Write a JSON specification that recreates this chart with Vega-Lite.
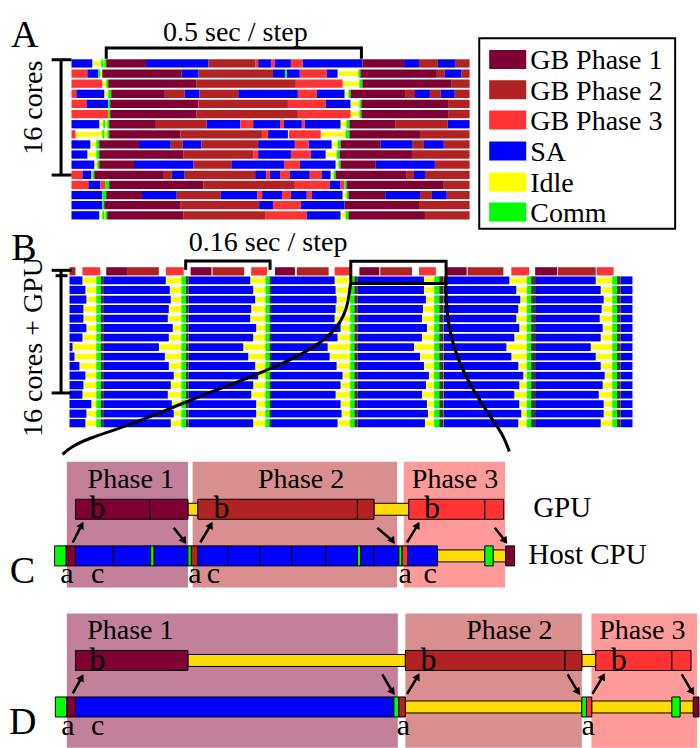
{
"$schema":"https://vega.github.io/schema/vega-lite/v6.json",
"width":700,"height":748,
"autosize":{"type":"fit","contains":"padding"},
"padding":0,
"background":"white",
"config":{"view":{"stroke":null}},
"datasets":{
"BG":[
{"a":67.3,"b":189.3,"y0":467.3,"y1":596,"s":"BG1"},
{"a":194,"b":400,"y0":467.3,"y1":596,"s":"BG2"},
{"a":406.7,"b":508.7,"y0":467.3,"y1":596,"s":"BG3"},
{"a":67.3,"b":400.7,"y0":622.7,"y1":760,"s":"BG1"},
{"a":408.3,"b":586,"y0":622.7,"y1":760,"s":"BG2"},
{"a":595.7,"b":702,"y0":622.7,"y1":760,"s":"BG3"}],
"A":[
{"y":59.8,"a":72,"b":93,"s":"SA"},{"y":59.8,"a":93,"b":102,"s":"Idle"},{"y":59.8,"a":102,"b":104,"s":"Comm"},{"y":59.8,"a":104,"b":105,"s":"Idle"},{"y":59.8,"a":105,"b":107,"s":"Comm"},{"y":59.8,"a":107,"b":147,"s":"P1"},{"y":59.8,"a":147,"b":210,"s":"SA"},{"y":59.8,"a":210,"b":257,"s":"P2"},{"y":59.8,"a":257,"b":260,"s":"P3"},{"y":59.8,"a":260,"b":273,"s":"SA"},{"y":59.8,"a":273,"b":277,"s":"P3"},{"y":59.8,"a":277,"b":293,"s":"SA"},{"y":59.8,"a":293,"b":305,"s":"P3"},{"y":59.8,"a":305,"b":365,"s":"SA"},{"y":59.8,"a":365,"b":407,"s":"P1"},{"y":59.8,"a":407,"b":422,"s":"SA"},{"y":59.8,"a":422,"b":441,"s":"P2"},{"y":59.8,"a":441,"b":459,"s":"SA"},{"y":59.8,"a":459,"b":473,"s":"P2"},
{"y":70.2,"a":72,"b":88,"s":"P3"},{"y":70.2,"a":88,"b":99,"s":"SA"},{"y":70.2,"a":99,"b":101,"s":"Comm"},{"y":70.2,"a":101,"b":103,"s":"Idle"},{"y":70.2,"a":103,"b":183,"s":"P1"},{"y":70.2,"a":183,"b":200,"s":"SA"},{"y":70.2,"a":200,"b":275,"s":"P2"},{"y":70.2,"a":275,"b":287,"s":"SA"},{"y":70.2,"a":287,"b":289,"s":"Comm"},{"y":70.2,"a":289,"b":302,"s":"SA"},{"y":70.2,"a":302,"b":329,"s":"P3"},{"y":70.2,"a":329,"b":340,"s":"SA"},{"y":70.2,"a":340,"b":361,"s":"Idle"},{"y":70.2,"a":361,"b":363,"s":"Comm"},{"y":70.2,"a":363,"b":440,"s":"P1"},{"y":70.2,"a":440,"b":448,"s":"P2"},{"y":70.2,"a":448,"b":465,"s":"SA"},{"y":70.2,"a":465,"b":473,"s":"P2"},
{"y":80.5,"a":72,"b":103,"s":"P3"},{"y":80.5,"a":103,"b":107,"s":"Idle"},{"y":80.5,"a":107,"b":109,"s":"Comm"},{"y":80.5,"a":109,"b":198,"s":"P1"},{"y":80.5,"a":198,"b":298,"s":"P2"},{"y":80.5,"a":298,"b":345,"s":"P3"},{"y":80.5,"a":345,"b":362,"s":"Idle"},{"y":80.5,"a":362,"b":365,"s":"Comm"},{"y":80.5,"a":365,"b":455,"s":"P1"},{"y":80.5,"a":455,"b":473,"s":"P2"},
{"y":90.9,"a":72,"b":77,"s":"P3"},{"y":90.9,"a":77,"b":105,"s":"SA"},{"y":90.9,"a":105,"b":109,"s":"Idle"},{"y":90.9,"a":109,"b":112,"s":"Comm"},{"y":90.9,"a":112,"b":166,"s":"P1"},{"y":90.9,"a":166,"b":186,"s":"P2"},{"y":90.9,"a":186,"b":201,"s":"SA"},{"y":90.9,"a":201,"b":240,"s":"P2"},{"y":90.9,"a":240,"b":300,"s":"SA"},{"y":90.9,"a":300,"b":319,"s":"P3"},{"y":90.9,"a":319,"b":347,"s":"SA"},{"y":90.9,"a":347,"b":351,"s":"Idle"},{"y":90.9,"a":351,"b":353,"s":"Comm"},{"y":90.9,"a":353,"b":408,"s":"P1"},{"y":90.9,"a":408,"b":418,"s":"P2"},{"y":90.9,"a":418,"b":433,"s":"SA"},{"y":90.9,"a":433,"b":444,"s":"P2"},{"y":90.9,"a":444,"b":458,"s":"SA"},{"y":90.9,"a":458,"b":473,"s":"P2"},
{"y":101.2,"a":72,"b":87,"s":"P3"},{"y":101.2,"a":87,"b":109,"s":"SA"},{"y":101.2,"a":109,"b":111,"s":"Comm"},{"y":101.2,"a":111,"b":200,"s":"P1"},{"y":101.2,"a":200,"b":290,"s":"P2"},{"y":101.2,"a":290,"b":328,"s":"P3"},{"y":101.2,"a":328,"b":353,"s":"SA"},{"y":101.2,"a":353,"b":362,"s":"Idle"},{"y":101.2,"a":362,"b":364,"s":"Comm"},{"y":101.2,"a":364,"b":452,"s":"P1"},{"y":101.2,"a":452,"b":473,"s":"P2"},
{"y":111.6,"a":72,"b":109,"s":"P3"},{"y":111.6,"a":109,"b":111,"s":"Comm"},{"y":111.6,"a":111,"b":198,"s":"P1"},{"y":111.6,"a":198,"b":300,"s":"P2"},{"y":111.6,"a":300,"b":353,"s":"P3"},{"y":111.6,"a":353,"b":362,"s":"Idle"},{"y":111.6,"a":362,"b":364,"s":"Comm"},{"y":111.6,"a":364,"b":452,"s":"P1"},{"y":111.6,"a":452,"b":473,"s":"P2"},
{"y":122.0,"a":72,"b":100,"s":"SA"},{"y":122.0,"a":100,"b":104,"s":"Idle"},{"y":122.0,"a":104,"b":106,"s":"Comm"},{"y":122.0,"a":106,"b":108,"s":"Idle"},{"y":122.0,"a":108,"b":110,"s":"Comm"},{"y":122.0,"a":110,"b":157,"s":"P1"},{"y":122.0,"a":157,"b":208,"s":"P2"},{"y":122.0,"a":208,"b":242,"s":"SA"},{"y":122.0,"a":242,"b":255,"s":"P3"},{"y":122.0,"a":255,"b":282,"s":"SA"},{"y":122.0,"a":282,"b":286,"s":"P3"},{"y":122.0,"a":286,"b":304,"s":"SA"},{"y":122.0,"a":304,"b":307,"s":"P3"},{"y":122.0,"a":307,"b":343,"s":"SA"},{"y":122.0,"a":343,"b":349,"s":"Idle"},{"y":122.0,"a":349,"b":352,"s":"Comm"},{"y":122.0,"a":352,"b":398,"s":"P1"},{"y":122.0,"a":398,"b":451,"s":"P2"},{"y":122.0,"a":451,"b":473,"s":"SA"},
{"y":132.3,"a":72,"b":76,"s":"P3"},{"y":132.3,"a":76,"b":103,"s":"Idle"},{"y":132.3,"a":103,"b":105,"s":"Comm"},{"y":132.3,"a":105,"b":108,"s":"Idle"},{"y":132.3,"a":108,"b":110,"s":"Comm"},{"y":132.3,"a":110,"b":182,"s":"P1"},{"y":132.3,"a":182,"b":264,"s":"P2"},{"y":132.3,"a":264,"b":270,"s":"P3"},{"y":132.3,"a":270,"b":290,"s":"SA"},{"y":132.3,"a":291,"b":323,"s":"P3"},{"y":132.3,"a":323,"b":348,"s":"Idle"},{"y":132.3,"a":348,"b":352,"s":"Comm"},{"y":132.3,"a":352,"b":423,"s":"P1"},{"y":132.3,"a":423,"b":473,"s":"P2"},
{"y":142.7,"a":72,"b":91,"s":"SA"},{"y":142.7,"a":91,"b":97,"s":"Idle"},{"y":142.7,"a":97,"b":100,"s":"Comm"},{"y":142.7,"a":100,"b":140,"s":"P1"},{"y":142.7,"a":140,"b":172,"s":"SA"},{"y":142.7,"a":172,"b":184,"s":"P2"},{"y":142.7,"a":184,"b":203,"s":"SA"},{"y":142.7,"a":203,"b":260,"s":"P2"},{"y":142.7,"a":260,"b":297,"s":"SA"},{"y":142.7,"a":297,"b":311,"s":"P3"},{"y":142.7,"a":311,"b":334,"s":"SA"},{"y":142.7,"a":334,"b":340,"s":"Idle"},{"y":142.7,"a":340,"b":343,"s":"Comm"},{"y":142.7,"a":343,"b":383,"s":"P1"},{"y":142.7,"a":383,"b":415,"s":"SA"},{"y":142.7,"a":415,"b":427,"s":"P2"},{"y":142.7,"a":427,"b":447,"s":"SA"},{"y":142.7,"a":447,"b":473,"s":"P2"},
{"y":153.0,"a":72,"b":88,"s":"SA"},{"y":153.0,"a":88,"b":97,"s":"Idle"},{"y":153.0,"a":97,"b":100,"s":"Comm"},{"y":153.0,"a":100,"b":185,"s":"P1"},{"y":153.0,"a":185,"b":255,"s":"P2"},{"y":153.0,"a":255,"b":260,"s":"P3"},{"y":153.0,"a":260,"b":293,"s":"SA"},{"y":153.0,"a":293,"b":313,"s":"P3"},{"y":153.0,"a":313,"b":328,"s":"SA"},{"y":153.0,"a":328,"b":339,"s":"Idle"},{"y":153.0,"a":339,"b":342,"s":"Comm"},{"y":153.0,"a":342,"b":415,"s":"P1"},{"y":153.0,"a":415,"b":473,"s":"P2"},
{"y":163.4,"a":72,"b":95,"s":"SA"},{"y":163.4,"a":95,"b":98,"s":"Idle"},{"y":163.4,"a":98,"b":100,"s":"Comm"},{"y":163.4,"a":100,"b":135,"s":"P1"},{"y":163.4,"a":135,"b":195,"s":"SA"},{"y":163.4,"a":195,"b":233,"s":"P2"},{"y":163.4,"a":233,"b":286,"s":"SA"},{"y":163.4,"a":286,"b":302,"s":"P3"},{"y":163.4,"a":302,"b":338,"s":"SA"},{"y":163.4,"a":338,"b":341,"s":"Idle"},{"y":163.4,"a":341,"b":343,"s":"Comm"},{"y":163.4,"a":343,"b":378,"s":"P1"},{"y":163.4,"a":378,"b":438,"s":"SA"},{"y":163.4,"a":438,"b":473,"s":"P2"},
{"y":173.8,"a":72,"b":83,"s":"P3"},{"y":173.8,"a":83,"b":92,"s":"SA"},{"y":173.8,"a":92,"b":93,"s":"Idle"},{"y":173.8,"a":93,"b":95,"s":"Comm"},{"y":173.8,"a":95,"b":165,"s":"P1"},{"y":173.8,"a":165,"b":173,"s":"P2"},{"y":173.8,"a":173,"b":186,"s":"SA"},{"y":173.8,"a":186,"b":257,"s":"P2"},{"y":173.8,"a":257,"b":268,"s":"SA"},{"y":173.8,"a":268,"b":272,"s":"P3"},{"y":173.8,"a":272,"b":282,"s":"SA"},{"y":173.8,"a":282,"b":292,"s":"P3"},{"y":173.8,"a":292,"b":312,"s":"SA"},{"y":173.8,"a":312,"b":324,"s":"P3"},{"y":173.8,"a":324,"b":333,"s":"SA"},{"y":173.8,"a":333,"b":336,"s":"Idle"},{"y":173.8,"a":336,"b":338,"s":"Comm"},{"y":173.8,"a":338,"b":409,"s":"P1"},{"y":173.8,"a":409,"b":417,"s":"P2"},{"y":173.8,"a":417,"b":428,"s":"SA"},{"y":173.8,"a":428,"b":473,"s":"P2"},
{"y":184.1,"a":72,"b":89,"s":"P3"},{"y":184.1,"a":89,"b":101,"s":"SA"},{"y":184.1,"a":101,"b":106,"s":"P3"},{"y":184.1,"a":106,"b":110,"s":"Comm"},{"y":184.1,"a":110,"b":205,"s":"P1"},{"y":184.1,"a":205,"b":297,"s":"P2"},{"y":184.1,"a":297,"b":332,"s":"P3"},{"y":184.1,"a":332,"b":343,"s":"SA"},{"y":184.1,"a":343,"b":347,"s":"P3"},{"y":184.1,"a":347,"b":349,"s":"Comm"},{"y":184.1,"a":349,"b":447,"s":"P1"},{"y":184.1,"a":447,"b":473,"s":"P2"},
{"y":194.5,"a":72,"b":103,"s":"SA"},{"y":194.5,"a":103,"b":107,"s":"Comm"},{"y":194.5,"a":107,"b":143,"s":"P1"},{"y":194.5,"a":143,"b":178,"s":"SA"},{"y":194.5,"a":178,"b":222,"s":"P2"},{"y":194.5,"a":222,"b":259,"s":"SA"},{"y":194.5,"a":259,"b":264,"s":"P3"},{"y":194.5,"a":264,"b":284,"s":"SA"},{"y":194.5,"a":284,"b":293,"s":"P3"},{"y":194.5,"a":293,"b":309,"s":"SA"},{"y":194.5,"a":309,"b":314,"s":"P3"},{"y":194.5,"a":314,"b":345,"s":"SA"},{"y":194.5,"a":345,"b":349,"s":"Idle"},{"y":194.5,"a":349,"b":351,"s":"Comm"},{"y":194.5,"a":351,"b":388,"s":"P1"},{"y":194.5,"a":388,"b":423,"s":"SA"},{"y":194.5,"a":423,"b":435,"s":"P2"},{"y":194.5,"a":435,"b":450,"s":"SA"},{"y":194.5,"a":450,"b":473,"s":"P2"},
{"y":204.8,"a":72,"b":103,"s":"SA"},{"y":204.8,"a":103,"b":105,"s":"Comm"},{"y":204.8,"a":105,"b":182,"s":"P1"},{"y":204.8,"a":182,"b":261,"s":"P2"},{"y":204.8,"a":261,"b":275,"s":"SA"},{"y":204.8,"a":275,"b":303,"s":"P3"},{"y":204.8,"a":303,"b":347,"s":"SA"},{"y":204.8,"a":347,"b":422,"s":"P1"},{"y":204.8,"a":422,"b":473,"s":"P2"},
{"y":215.2,"a":72,"b":100,"s":"SA"},{"y":215.2,"a":100,"b":103,"s":"Idle"},{"y":215.2,"a":103,"b":105,"s":"Comm"},{"y":215.2,"a":105,"b":106,"s":"Idle"},{"y":215.2,"a":106,"b":108,"s":"Comm"},{"y":215.2,"a":108,"b":185,"s":"P1"},{"y":215.2,"a":185,"b":267,"s":"P2"},{"y":215.2,"a":267,"b":309,"s":"P3"},{"y":215.2,"a":309,"b":343,"s":"SA"},{"y":215.2,"a":343,"b":348,"s":"Idle"},{"y":215.2,"a":348,"b":351,"s":"Comm"},{"y":215.2,"a":351,"b":428,"s":"P1"},{"y":215.2,"a":428,"b":473,"s":"P2"}
],
"B":[
{"y":272.5,"a":70,"b":76,"s":"P2"},{"y":272.5,"a":83,"b":101,"s":"P3"},{"y":272.5,"a":107,"b":128,"s":"P1"},{"y":272.5,"a":128,"b":160,"s":"P2"},{"y":272.5,"a":167,"b":185,"s":"P3"},{"y":272.5,"a":192,"b":213,"s":"P1"},{"y":272.5,"a":214,"b":246,"s":"P2"},{"y":272.5,"a":253,"b":269,"s":"P3"},{"y":272.5,"a":277,"b":297,"s":"P1"},{"y":272.5,"a":299,"b":331,"s":"P2"},{"y":272.5,"a":337,"b":353,"s":"P3"},{"y":272.5,"a":362,"b":382,"s":"P1"},{"y":272.5,"a":383,"b":415,"s":"P2"},{"y":272.5,"a":422,"b":439,"s":"P3"},{"y":272.5,"a":449,"b":470,"s":"P1"},{"y":272.5,"a":471,"b":507,"s":"P2"},{"y":272.5,"a":515,"b":533,"s":"P3"},{"y":272.5,"a":539,"b":561,"s":"P1"},{"y":272.5,"a":562,"b":600,"s":"P2"},{"y":272.5,"a":601,"b":618,"s":"P3"},
{"y":281.9,"a":72,"b":625,"s":"Idle"},{"y":291.6,"a":72,"b":625,"s":"Idle"},{"y":301.4,"a":72,"b":625,"s":"Idle"},{"y":311.1,"a":72,"b":625,"s":"Idle"},{"y":320.8,"a":72,"b":625,"s":"Idle"},{"y":330.6,"a":72,"b":625,"s":"Idle"},{"y":340.3,"a":72,"b":625,"s":"Idle"},{"y":350.0,"a":72,"b":625,"s":"Idle"},{"y":359.8,"a":72,"b":625,"s":"Idle"},{"y":369.5,"a":72,"b":625,"s":"Idle"},{"y":379.2,"a":72,"b":625,"s":"Idle"},{"y":389.0,"a":72,"b":625,"s":"Idle"},{"y":398.7,"a":72,"b":625,"s":"Idle"},{"y":408.4,"a":72,"b":625,"s":"Idle"},{"y":418.2,"a":72,"b":625,"s":"Idle"},{"y":427.9,"a":72,"b":625,"s":"Idle"},
{"y":281.9,"a":70,"b":83,"s":"SA"},{"y":281.9,"a":104,"b":167,"s":"SA"},{"y":281.9,"a":190,"b":252,"s":"SA"},{"y":281.9,"a":273,"b":337,"s":"SA"},{"y":281.9,"a":360,"b":427,"s":"SA"},{"y":281.9,"a":447,"b":513,"s":"SA"},{"y":281.9,"a":539,"b":600,"s":"SA"},{"y":281.9,"a":625,"b":637,"s":"SA"},
{"y":291.6,"a":70,"b":86,"s":"SA"},{"y":291.6,"a":104,"b":171,"s":"SA"},{"y":291.6,"a":190,"b":255,"s":"SA"},{"y":291.6,"a":273,"b":338,"s":"SA"},{"y":291.6,"a":360,"b":427,"s":"SA"},{"y":291.6,"a":447,"b":520,"s":"SA"},{"y":291.6,"a":539,"b":605,"s":"SA"},{"y":291.6,"a":625,"b":637,"s":"SA"},
{"y":301.4,"a":70,"b":87,"s":"SA"},{"y":301.4,"a":104,"b":172,"s":"SA"},{"y":301.4,"a":190,"b":257,"s":"SA"},{"y":301.4,"a":273,"b":339,"s":"SA"},{"y":301.4,"a":360,"b":429,"s":"SA"},{"y":301.4,"a":447,"b":524,"s":"SA"},{"y":301.4,"a":539,"b":608,"s":"SA"},{"y":301.4,"a":625,"b":637,"s":"SA"},
{"y":311.1,"a":70,"b":84,"s":"SA"},{"y":311.1,"a":104,"b":170,"s":"SA"},{"y":311.1,"a":190,"b":253,"s":"SA"},{"y":311.1,"a":273,"b":338,"s":"SA"},{"y":311.1,"a":360,"b":426,"s":"SA"},{"y":311.1,"a":447,"b":522,"s":"SA"},{"y":311.1,"a":539,"b":606,"s":"SA"},{"y":311.1,"a":625,"b":637,"s":"SA"},
{"y":320.8,"a":70,"b":84,"s":"SA"},{"y":320.8,"a":104,"b":169,"s":"SA"},{"y":320.8,"a":190,"b":252,"s":"SA"},{"y":320.8,"a":273,"b":337,"s":"SA"},{"y":320.8,"a":360,"b":425,"s":"SA"},{"y":320.8,"a":447,"b":520,"s":"SA"},{"y":320.8,"a":539,"b":604,"s":"SA"},{"y":320.8,"a":625,"b":637,"s":"SA"},
{"y":330.6,"a":70,"b":87,"s":"SA"},{"y":330.6,"a":104,"b":174,"s":"SA"},{"y":330.6,"a":190,"b":258,"s":"SA"},{"y":330.6,"a":273,"b":343,"s":"SA"},{"y":330.6,"a":360,"b":430,"s":"SA"},{"y":330.6,"a":447,"b":523,"s":"SA"},{"y":330.6,"a":539,"b":607,"s":"SA"},{"y":330.6,"a":625,"b":637,"s":"SA"},
{"y":340.3,"a":70,"b":83,"s":"SA"},{"y":340.3,"a":104,"b":170,"s":"SA"},{"y":340.3,"a":190,"b":255,"s":"SA"},{"y":340.3,"a":273,"b":340,"s":"SA"},{"y":340.3,"a":360,"b":425,"s":"SA"},{"y":340.3,"a":447,"b":518,"s":"SA"},{"y":340.3,"a":539,"b":605,"s":"SA"},{"y":340.3,"a":625,"b":637,"s":"SA"},
{"y":350.0,"a":70,"b":73,"s":"SA"},{"y":350.0,"a":104,"b":160,"s":"SA"},{"y":350.0,"a":190,"b":245,"s":"SA"},{"y":350.0,"a":273,"b":330,"s":"SA"},{"y":350.0,"a":360,"b":417,"s":"SA"},{"y":350.0,"a":447,"b":510,"s":"SA"},{"y":350.0,"a":539,"b":595,"s":"SA"},{"y":350.0,"a":625,"b":637,"s":"SA"},
{"y":359.8,"a":70,"b":75,"s":"SA"},{"y":359.8,"a":104,"b":166,"s":"SA"},{"y":359.8,"a":190,"b":250,"s":"SA"},{"y":359.8,"a":273,"b":332,"s":"SA"},{"y":359.8,"a":360,"b":423,"s":"SA"},{"y":359.8,"a":447,"b":515,"s":"SA"},{"y":359.8,"a":539,"b":600,"s":"SA"},{"y":359.8,"a":625,"b":637,"s":"SA"},
{"y":369.5,"a":70,"b":80,"s":"SA"},{"y":369.5,"a":104,"b":170,"s":"SA"},{"y":369.5,"a":190,"b":257,"s":"SA"},{"y":369.5,"a":273,"b":339,"s":"SA"},{"y":369.5,"a":360,"b":427,"s":"SA"},{"y":369.5,"a":447,"b":522,"s":"SA"},{"y":369.5,"a":539,"b":605,"s":"SA"},{"y":369.5,"a":625,"b":637,"s":"SA"},
{"y":379.2,"a":70,"b":86,"s":"SA"},{"y":379.2,"a":104,"b":175,"s":"SA"},{"y":379.2,"a":190,"b":260,"s":"SA"},{"y":379.2,"a":273,"b":345,"s":"SA"},{"y":379.2,"a":360,"b":432,"s":"SA"},{"y":379.2,"a":447,"b":527,"s":"SA"},{"y":379.2,"a":539,"b":609,"s":"SA"},{"y":379.2,"a":625,"b":637,"s":"SA"},
{"y":389.0,"a":70,"b":84,"s":"SA"},{"y":389.0,"a":104,"b":172,"s":"SA"},{"y":389.0,"a":190,"b":255,"s":"SA"},{"y":389.0,"a":273,"b":343,"s":"SA"},{"y":389.0,"a":360,"b":429,"s":"SA"},{"y":389.0,"a":447,"b":523,"s":"SA"},{"y":389.0,"a":539,"b":607,"s":"SA"},{"y":389.0,"a":625,"b":637,"s":"SA"},
{"y":398.7,"a":70,"b":83,"s":"SA"},{"y":398.7,"a":104,"b":169,"s":"SA"},{"y":398.7,"a":190,"b":253,"s":"SA"},{"y":398.7,"a":273,"b":338,"s":"SA"},{"y":398.7,"a":360,"b":425,"s":"SA"},{"y":398.7,"a":447,"b":518,"s":"SA"},{"y":398.7,"a":539,"b":603,"s":"SA"},{"y":398.7,"a":625,"b":637,"s":"SA"},
{"y":408.4,"a":70,"b":92,"s":"SA"},{"y":408.4,"a":104,"b":173,"s":"SA"},{"y":408.4,"a":190,"b":258,"s":"SA"},{"y":408.4,"a":273,"b":343,"s":"SA"},{"y":408.4,"a":360,"b":430,"s":"SA"},{"y":408.4,"a":447,"b":523,"s":"SA"},{"y":408.4,"a":539,"b":608,"s":"SA"},{"y":408.4,"a":625,"b":637,"s":"SA"},
{"y":418.2,"a":70,"b":87,"s":"SA"},{"y":418.2,"a":104,"b":175,"s":"SA"},{"y":418.2,"a":190,"b":258,"s":"SA"},{"y":418.2,"a":273,"b":344,"s":"SA"},{"y":418.2,"a":360,"b":431,"s":"SA"},{"y":418.2,"a":447,"b":525,"s":"SA"},{"y":418.2,"a":539,"b":608,"s":"SA"},{"y":418.2,"a":625,"b":637,"s":"SA"},
{"y":427.9,"a":70,"b":86,"s":"SA"},{"y":427.9,"a":104,"b":172,"s":"SA"},{"y":427.9,"a":190,"b":255,"s":"SA"},{"y":427.9,"a":273,"b":340,"s":"SA"},{"y":427.9,"a":360,"b":428,"s":"SA"},{"y":427.9,"a":447,"b":522,"s":"SA"},{"y":427.9,"a":539,"b":605,"s":"SA"},{"y":427.9,"a":625,"b":637,"s":"SA"}
],
"Bcol":[
{"a":97,"b":101.5,"y0":277.6,"y1":432,"s":"Comm"},{"a":101.5,"b":104,"y0":277.6,"y1":432,"s":"Sync"},
{"a":182.7,"b":187.3,"y0":277.6,"y1":432,"s":"Comm"},{"a":187.3,"b":190,"y0":277.6,"y1":432,"s":"Sync"},
{"a":267.3,"b":271.5,"y0":277.6,"y1":432,"s":"Comm"},{"a":271.5,"b":273.3,"y0":277.6,"y1":432,"s":"Sync"},
{"a":352.7,"b":357,"y0":277.6,"y1":432,"s":"Comm"},{"a":357,"b":360,"y0":277.6,"y1":432,"s":"Sync"},
{"a":437.3,"b":442.5,"y0":277.6,"y1":432,"s":"Comm"},{"a":442.5,"b":446.7,"y0":277.6,"y1":432,"s":"Sync"},
{"a":530.7,"b":535,"y0":277.6,"y1":432,"s":"Comm"},{"a":535,"b":539.3,"y0":277.6,"y1":432,"s":"Sync"},
{"a":616.7,"b":621.5,"y0":277.6,"y1":432,"s":"Comm"},{"a":621.5,"b":625,"y0":277.6,"y1":432,"s":"Sync"}],
"Bsep":[{"y":286.8,"a":95,"b":637},{"y":296.5,"a":95,"b":637},{"y":306.2,"a":95,"b":637},{"y":316.0,"a":95,"b":637},{"y":325.7,"a":95,"b":637},{"y":335.4,"a":95,"b":637},{"y":345.2,"a":95,"b":637},{"y":354.9,"a":95,"b":637},{"y":364.6,"a":95,"b":637},{"y":374.4,"a":95,"b":637},{"y":384.1,"a":95,"b":637},{"y":393.8,"a":95,"b":637},{"y":403.6,"a":95,"b":637},{"y":413.3,"a":95,"b":637},{"y":423.0,"a":95,"b":637}],
"CDthin":[
{"y":516,"a":189.3,"b":199.3,"s":"Idle2"},{"y":516,"a":376.7,"b":411.7,"s":"Idle2"},
{"y":563.7,"a":440.7,"b":488.3,"s":"Idle2"},{"y":563.7,"a":496.7,"b":509.3,"s":"Idle2"},
{"y":670.7,"a":189.3,"b":408.3,"s":"Idle2"},{"y":670.7,"a":586,"b":600,"s":"Idle2"},
{"y":718.3,"a":408.3,"b":586,"s":"Idle2"},{"y":718.3,"a":596,"b":676.7,"s":"Idle2"},{"y":718.3,"a":685,"b":698.3,"s":"Idle2"}],
"CDfull":[
{"y":516,"a":76,"b":151,"s":"P1"},{"y":516,"a":151,"b":189.3,"s":"P1"},{"y":516,"a":199.3,"b":360,"s":"P2"},{"y":516,"a":360,"b":376.7,"s":"P2"},{"y":516,"a":411.7,"b":488.3,"s":"P3"},{"y":516,"a":488.3,"b":507.3,"s":"P3"},
{"y":563.7,"a":55,"b":66.7,"s":"Comm"},{"y":563.7,"a":66.7,"b":76,"s":"P1"},{"y":563.7,"a":76,"b":114,"s":"SA"},{"y":563.7,"a":114,"b":151.7,"s":"SA"},{"y":563.7,"a":151.7,"b":155.3,"s":"Comm"},{"y":563.7,"a":155.3,"b":189.3,"s":"SA"},{"y":563.7,"a":189.3,"b":192.7,"s":"Comm"},{"y":563.7,"a":192.7,"b":199.3,"s":"P2"},{"y":563.7,"a":199.3,"b":229.3,"s":"SA"},{"y":563.7,"a":229.3,"b":261.7,"s":"SA"},{"y":563.7,"a":261.7,"b":294,"s":"SA"},{"y":563.7,"a":294,"b":328.3,"s":"SA"},{"y":563.7,"a":328.3,"b":360,"s":"SA"},{"y":563.7,"a":360,"b":363.3,"s":"Comm"},{"y":563.7,"a":363.3,"b":376.7,"s":"SA"},{"y":563.7,"a":376.7,"b":401.7,"s":"SA"},{"y":563.7,"a":401.7,"b":405,"s":"Comm"},{"y":563.7,"a":405,"b":410.7,"s":"P3"},{"y":563.7,"a":410.7,"b":440.7,"s":"SA"},{"y":563.7,"a":488.3,"b":496.7,"s":"Comm"},{"y":563.7,"a":509.3,"b":518.3,"s":"P1"},
{"y":670.7,"a":76,"b":189.3,"s":"P1"},{"y":670.7,"a":408.3,"b":569,"s":"P2"},{"y":670.7,"a":569,"b":586,"s":"P2"},{"y":670.7,"a":600,"b":676.7,"s":"P3"},{"y":670.7,"a":676.7,"b":696,"s":"P3"},
{"y":718.3,"a":55.7,"b":67.3,"s":"Comm"},{"y":718.3,"a":67.3,"b":76,"s":"P1"},{"y":718.3,"a":76,"b":396.7,"s":"SA"},{"y":718.3,"a":396.7,"b":401.7,"s":"Comm"},{"y":718.3,"a":401.7,"b":408.3,"s":"P2"},{"y":718.3,"a":586,"b":590.7,"s":"Comm"},{"y":718.3,"a":590.7,"b":596,"s":"P3"},{"y":718.3,"a":676.7,"b":685,"s":"Comm"},{"y":718.3,"a":698.3,"b":704,"s":"P1"}],
"Leg":[
{"y":55.7,"a":492.7,"b":530,"s":"P1","t":"GB Phase 1"},
{"y":86.6,"a":492.7,"b":530,"s":"P2","t":"GB Phase 2"},
{"y":117.7,"a":492.7,"b":530,"s":"P3","t":"GB Phase 3"},
{"y":149.3,"a":492.7,"b":530,"s":"SA","t":"SA"},
{"y":181,"a":492.7,"b":530,"s":"Idle","t":"Idle"},
{"y":211.7,"a":492.7,"b":530,"s":"Comm","t":"Comm"}],
"LegBox":[{"a":482.7,"b":680,"y0":34,"y1":229}],
"Box":[{"a":353.3,"b":449.3,"y0":262.3,"y1":285}],
"Rules":[
{"a":107,"y":44,"b":364,"y2":44},{"a":107,"y":42.5,"b":107,"y2":55},{"a":364,"y":42.5,"b":364,"y2":55},
{"a":61.5,"y":56,"b":61.5,"y2":174},{"a":52,"y":56,"b":72,"y2":56},{"a":52,"y":174,"b":72,"y2":174},
{"a":187,"y":262,"b":272,"y2":262},{"a":187,"y":260.5,"b":187,"y2":271},{"a":272,"y":260.5,"b":272,"y2":271},
{"a":61.5,"y":271.5,"b":61.5,"y2":397},{"a":52,"y":271.5,"b":72,"y2":271.5},{"a":56,"y":277,"b":68,"y2":277},{"a":52,"y":397,"b":72,"y2":397}],
"Curves":[
{"c":"L","o":1,"x":353,"y":285},{"c":"L","o":2,"x":350,"y":312},{"c":"L","o":3,"x":337,"y":335},{"c":"L","o":4,"x":310,"y":355},{"c":"L","o":5,"x":267,"y":375},{"c":"L","o":6,"x":220,"y":393},{"c":"L","o":7,"x":178,"y":410},{"c":"L","o":8,"x":125,"y":432},{"c":"L","o":9,"x":90,"y":443},{"c":"L","o":10,"x":70,"y":453},{"c":"L","o":11,"x":63,"y":460},
{"c":"R","o":1,"x":449,"y":285},{"c":"R","o":2,"x":450,"y":322},{"c":"R","o":3,"x":460,"y":362},{"c":"R","o":4,"x":477,"y":395},{"c":"R","o":5,"x":493,"y":420},{"c":"R","o":6,"x":507,"y":440},{"c":"R","o":7,"x":513,"y":457}],
"Arrows":[
{"a":73.3,"y":550,"b":82.3,"y2":532,"d":"up"},{"a":201.7,"y":550,"b":212.3,"y2":532,"d":"up"},{"a":410,"y":550,"b":420.7,"y2":532,"d":"up"},
{"a":175,"y":535,"b":185.5,"y2":548.5,"d":"down"},{"a":380,"y":535,"b":395.5,"y2":548.5,"d":"down"},{"a":498.3,"y":535,"b":508.8,"y2":548.5,"d":"down"},
{"a":73.3,"y":704.3,"b":82.3,"y2":688,"d":"up"},{"a":410,"y":705,"b":420.7,"y2":687,"d":"up"},{"a":596.7,"y":705,"b":607.3,"y2":687,"d":"up"},
{"a":385,"y":685,"b":395.5,"y2":703,"d":"down"},{"a":571.7,"y":685,"b":582.2,"y2":703,"d":"down"},{"a":686.7,"y":685,"b":697.2,"y2":703,"d":"down"}],
"TBig":[{"x":25,"y":42.5,"t":"A"},{"x":24,"y":261,"t":"B"},{"x":22.5,"y":591,"t":"C"},{"x":23,"y":746,"t":"D"}],
"TMid":[
{"x":237,"y":37,"t":"0.5 sec / step"},{"x":270,"y":252,"t":"0.16 sec / step"},
{"x":131.7,"y":494,"t":"Phase 1"},{"x":303.3,"y":494,"t":"Phase 2"},{"x":458.3,"y":494,"t":"Phase 3"},
{"x":131.3,"y":648.5,"t":"Phase 1"},{"x":513,"y":648.5,"t":"Phase 2"},{"x":647,"y":648.5,"t":"Phase 3"}],
"TLeft":[{"x":537,"y":524,"t":"GPU"},{"x":532,"y":572.5,"t":"Host CPU"}],
"TRot":[{"x":34,"y":105,"t":"16 cores"},{"x":34,"y":350,"t":"16 cores + GPU"}],
"TB":[{"x":98.3,"y":525,"t":"b"},{"x":223,"y":525,"t":"b"},{"x":435,"y":525,"t":"b"},{"x":98.3,"y":680,"t":"b"},{"x":431.7,"y":680,"t":"b"},{"x":623.3,"y":680,"t":"b"}],
"TAC":[{"x":67.5,"y":591.7,"t":"a"},{"x":98.3,"y":591.7,"t":"c"},{"x":196.3,"y":591.7,"t":"a"},{"x":215,"y":591.7,"t":"c"},{"x":408,"y":591.7,"t":"a"},{"x":433.3,"y":591.7,"t":"c"},
{"x":68.3,"y":746.5,"t":"a"},{"x":98.3,"y":746.5,"t":"c"},{"x":406.3,"y":746.5,"t":"a"},{"x":592.5,"y":746.5,"t":"a"}]
},
"layer":[
{"data":{"name":"BG"},"mark":{"type":"rect"},
 "encoding":{"x":{"field":"a","type":"quantitative","scale":{"domain":[0,700],"nice":false,"zero":false},"axis":null},"x2":{"field":"b"},
 "y":{"field":"y0","type":"quantitative","scale":{"domain":[0,748],"reverse":true,"nice":false,"zero":false},"axis":null},"y2":{"field":"y1"},
 "color":{"field":"s","type":"nominal","legend":null,"scale":{"domain":["P1","P2","P3","SA","Idle","Comm","Idle2","Sync","BG1","BG2","BG3"],"range":["#7f0032","#b22222","#ff3333","#0000ff","#ffff00","#00ff00","#ffdc00","#3d3d2d","#c2809b","#d98f8f","#ff9a9a"]}}}},
{"data":{"name":"A"},"transform":[{"filter":"datum.s == 'Idle'"}],"mark":{"type":"bar","size":4.5},
 "encoding":{"x":{"field":"a","type":"quantitative","axis":null},"x2":{"field":"b"},"y":{"field":"y","type":"quantitative","axis":null},"color":{"field":"s","type":"nominal","legend":null}}},
{"data":{"name":"A"},"transform":[{"filter":"datum.s != 'Idle'"}],"mark":{"type":"bar","size":8.3},
 "encoding":{"x":{"field":"a","type":"quantitative","axis":null},"x2":{"field":"b"},"y":{"field":"y","type":"quantitative","axis":null},"color":{"field":"s","type":"nominal","legend":null}}},
{"data":{"name":"B"},"transform":[{"filter":"datum.s == 'Idle'"}],"mark":{"type":"bar","size":5.5},
 "encoding":{"x":{"field":"a","type":"quantitative","axis":null},"x2":{"field":"b"},"y":{"field":"y","type":"quantitative","axis":null},"color":{"field":"s","type":"nominal","legend":null}}},
{"data":{"name":"B"},"transform":[{"filter":"datum.s != 'Idle'"}],"mark":{"type":"bar","size":8.2},
 "encoding":{"x":{"field":"a","type":"quantitative","axis":null},"x2":{"field":"b"},"y":{"field":"y","type":"quantitative","axis":null},"color":{"field":"s","type":"nominal","legend":null}}},
{"data":{"name":"Bcol"},"mark":{"type":"rect"},
 "encoding":{"x":{"field":"a","type":"quantitative","axis":null},"x2":{"field":"b"},"y":{"field":"y0","type":"quantitative","axis":null},"y2":{"field":"y1"},"color":{"field":"s","type":"nominal","legend":null}}},
{"data":{"name":"Bsep"},"mark":{"type":"rule","color":"white","strokeWidth":1.6},
 "encoding":{"x":{"field":"a","type":"quantitative","axis":null},"x2":{"field":"b"},"y":{"field":"y","type":"quantitative","axis":null}}},
{"data":{"name":"CDthin"},"mark":{"type":"bar","size":12,"stroke":"black","strokeWidth":1},
 "encoding":{"x":{"field":"a","type":"quantitative","axis":null},"x2":{"field":"b"},"y":{"field":"y","type":"quantitative","axis":null},"color":{"field":"s","type":"nominal","legend":null}}},
{"data":{"name":"CDfull"},"mark":{"type":"bar","size":20,"stroke":"black","strokeWidth":1},
 "encoding":{"x":{"field":"a","type":"quantitative","axis":null},"x2":{"field":"b"},"y":{"field":"y","type":"quantitative","axis":null},"color":{"field":"s","type":"nominal","legend":null}}},
{"data":{"name":"Leg"},"mark":{"type":"bar","size":19},
 "encoding":{"x":{"field":"a","type":"quantitative","axis":null},"x2":{"field":"b"},"y":{"field":"y","type":"quantitative","axis":null},"color":{"field":"s","type":"nominal","legend":null}}},
{"data":{"name":"Leg"},"mark":{"type":"text","font":"Liberation Serif","fontSize":28,"align":"left","baseline":"alphabetic","dx":4,"dy":10,"color":"black"},
 "encoding":{"x":{"field":"b","type":"quantitative","axis":null},"y":{"field":"y","type":"quantitative","axis":null},"text":{"field":"t"}}},
{"data":{"name":"LegBox"},"mark":{"type":"rect","fill":"transparent","stroke":"black","strokeWidth":2},
 "encoding":{"x":{"field":"a","type":"quantitative","axis":null},"x2":{"field":"b"},"y":{"field":"y0","type":"quantitative","axis":null},"y2":{"field":"y1"}}},
{"data":{"name":"Rules"},"mark":{"type":"rule","color":"black","strokeWidth":3},
 "encoding":{"x":{"field":"a","type":"quantitative","axis":null},"x2":{"field":"b"},"y":{"field":"y","type":"quantitative","axis":null},"y2":{"field":"y2"}}},
{"data":{"name":"Box"},"mark":{"type":"rect","fill":"transparent","stroke":"black","strokeWidth":3},
 "encoding":{"x":{"field":"a","type":"quantitative","axis":null},"x2":{"field":"b"},"y":{"field":"y0","type":"quantitative","axis":null},"y2":{"field":"y1"}}},
{"data":{"name":"Curves"},"mark":{"type":"line","color":"black","strokeWidth":3,"interpolate":"basis"},
 "encoding":{"x":{"field":"x","type":"quantitative","axis":null},"y":{"field":"y","type":"quantitative","axis":null},"detail":{"field":"c","type":"nominal"},"order":{"field":"o","type":"quantitative"}}},
{"data":{"name":"Arrows"},"mark":{"type":"rule","color":"black","strokeWidth":2.5},
 "encoding":{"x":{"field":"a","type":"quantitative","axis":null},"x2":{"field":"b"},"y":{"field":"y","type":"quantitative","axis":null},"y2":{"field":"y2"}}},
{"data":{"name":"Arrows"},"transform":[{"filter":"datum.d == 'up'"}],"mark":{"type":"point","shape":"triangle-up","filled":true,"color":"black","opacity":1,"size":70,"angle":28},
 "encoding":{"x":{"field":"b","type":"quantitative","axis":null},"y":{"field":"y2","type":"quantitative","axis":null}}},
{"data":{"name":"Arrows"},"transform":[{"filter":"datum.d == 'down'"}],"mark":{"type":"point","shape":"triangle-up","filled":true,"color":"black","opacity":1,"size":70,"angle":145},
 "encoding":{"x":{"field":"b","type":"quantitative","axis":null},"y":{"field":"y2","type":"quantitative","axis":null}}},
{"data":{"name":"TBig"},"mark":{"type":"text","font":"Liberation Serif","fontSize":38,"align":"center","baseline":"alphabetic","color":"black"},
 "encoding":{"x":{"field":"x","type":"quantitative","axis":null},"y":{"field":"y","type":"quantitative","axis":null},"text":{"field":"t"}}},
{"data":{"name":"TMid"},"mark":{"type":"text","font":"Liberation Serif","fontSize":28,"align":"center","baseline":"alphabetic","color":"black"},
 "encoding":{"x":{"field":"x","type":"quantitative","axis":null},"y":{"field":"y","type":"quantitative","axis":null},"text":{"field":"t"}}},
{"data":{"name":"TLeft"},"mark":{"type":"text","font":"Liberation Serif","fontSize":29,"align":"left","baseline":"alphabetic","color":"black"},
 "encoding":{"x":{"field":"x","type":"quantitative","axis":null},"y":{"field":"y","type":"quantitative","axis":null},"text":{"field":"t"}}},
{"data":{"name":"TRot"},"mark":{"type":"text","font":"Liberation Serif","fontSize":28,"align":"center","baseline":"middle","angle":270,"color":"black"},
 "encoding":{"x":{"field":"x","type":"quantitative","axis":null},"y":{"field":"y","type":"quantitative","axis":null},"text":{"field":"t"}}},
{"data":{"name":"TB"},"mark":{"type":"text","font":"Liberation Serif","fontSize":32,"align":"center","baseline":"alphabetic","color":"black"},
 "encoding":{"x":{"field":"x","type":"quantitative","axis":null},"y":{"field":"y","type":"quantitative","axis":null},"text":{"field":"t"}}},
{"data":{"name":"TAC"},"mark":{"type":"text","font":"Liberation Serif","fontSize":30,"align":"center","baseline":"alphabetic","color":"black"},
 "encoding":{"x":{"field":"x","type":"quantitative","axis":null},"y":{"field":"y","type":"quantitative","axis":null},"text":{"field":"t"}}}
]
}
